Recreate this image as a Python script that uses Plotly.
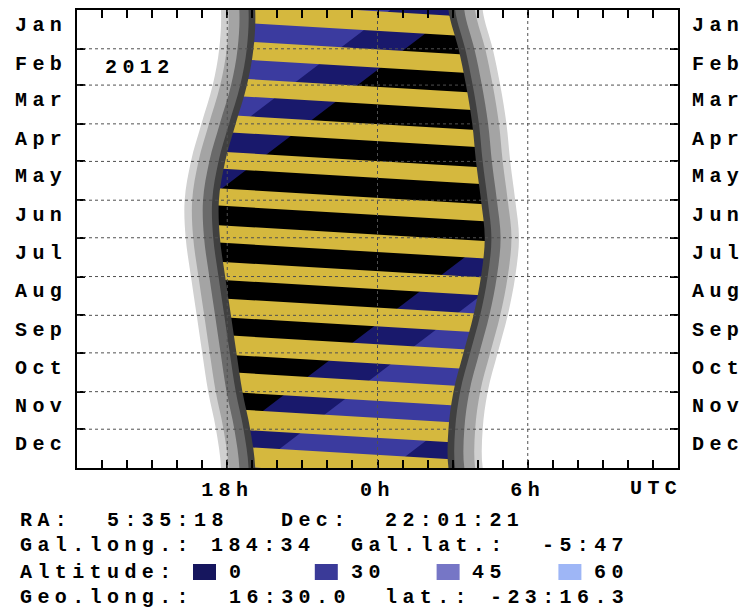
import plotly.graph_objects as go

# ---------------- data ----------------
year = 2012
month_names = ["Jan", "Feb", "Mar", "Apr", "May", "Jun",
               "Jul", "Aug", "Sep", "Oct", "Nov", "Dec"]
month_start_day = [0, 31, 60, 91, 121, 152, 182, 213, 244, 274, 305, 335, 366]
hour_tick_vals = [-6, 0, 6]
hour_tick_text = ["18h", "0h", "6h"]

# Outer edges of evening / morning twilight at each month start
# (hours relative to 0h UTC)
sunset_hours = [-6.25, -6.32, -6.58, -7.03, -7.45, -7.70, -7.66,
                -7.45, -7.22, -7.00, -6.76, -6.45, -6.25]
sunrise_hours = [4.20, 4.60, 4.90, 5.15, 5.30, 5.50, 5.65,
                 5.50, 5.20, 4.80, 4.40, 4.20, 4.20]
twilight_band_minutes = [18, 26, 22, 16]          # sunlit side -> dark side
twilight_colors = ["#d0d0d0", "#a4a4a4", "#6a6a6a", "#404040"]

# Moon above the horizon: day on which moonset / moonrise pass 0h UTC
moon_up_from_day = [1.0, 31.5, 61.4, 91.1, 120.7, 150.1, 179.5,
                    208.7, 237.9, 267.1, 296.5, 325.9, 355.5]
moon_up_until_day = [16.7, 46.0, 75.4, 104.8, 134.2, 163.8, 193.4,
                     223.1, 252.9, 282.6, 312.3, 342.0, 371.5]
moon_delay_hours_per_day = 0.84

# Target altitude limits on Jan 1 (hours relative to 0h UTC);
# each limit drifts back one full day over the year
target_rise_hour = -7.56
target_alt30_start_hour = -4.91
target_alt30_end_hour = 0.51
target_set_hour = 3.14
days_in_year = 366

info_lines = [
    [(0, "RA:"), (5, "5:35:18"), (15, "Dec:"), (21, "22:01:21")],
    [(0, "Gal.long.:"), (11, "184:34"), (19, "Gal.lat.:"), (30, "-5:47")],
    [(0, "Altitude:"), (12, "0"), (19, "30"), (26, "45"), (33, "60")],
    [(0, "Geo.long.:"), (12, "16:30.0"), (21, "lat.:"), (27, "-23:16.3")],
]
altitude_key_cells = [10, 17, 24, 31]
altitude_key_colors = ["#16165e", "#3a3a98", "#7676c6", "#9eb6f6"]

NAVY = "#19196c"
MID_BLUE = "#3b3b9f"
MOON_YELLOW = "#d5b83e"

# ---------------- geometry helpers ----------------
W, H = 743, 608
PX0, PX1, PY0, PY1 = 77, 678, 10, 468
LETTER = 5.4
FONT = "Liberation Mono"


def spaced(s, px=LETTER):
    return f'<span style="letter-spacing:{px}px">{s}</span>'


def paper_x(px):
    return (px - PX0) / (PX1 - PX0)


def paper_y(py):
    return (PY1 - py) / (PY1 - PY0)


fig = go.Figure()

# ---- target above the horizon / above 30 deg ----
def drifting_band(start_h, end_h):
    xs, ys = [], []
    for shift in (0, 24):
        xs += [start_h + shift, end_h + shift, end_h + shift - 24,
               start_h + shift - 24, start_h + shift, None]
        ys += [0, 0, days_in_year, days_in_year, 0, None]
    return xs, ys


for (a, b), col in (((target_rise_hour, target_set_hour), NAVY),
                    ((target_alt30_start_hour, target_alt30_end_hour), MID_BLUE)):
    xs, ys = drifting_band(a, b)
    fig.add_trace(go.Scatter(x=xs, y=ys, mode="lines", fill="toself",
                             fillcolor=col, line=dict(width=0),
                             hoverinfo="skip"))

# ---- moon above the horizon ----
mx, my = [], []
t_lo, t_hi = -9.0, 7.0
r = moon_delay_hours_per_day
for d0, d1 in zip(moon_up_from_day, moon_up_until_day):
    mx += [t_lo, t_hi, t_hi, t_lo, t_lo, None]
    my += [d0 + t_lo / r, d0 + t_hi / r, d1 + t_hi / r, d1 + t_lo / r,
           d0 + t_lo / r, None]
fig.add_trace(go.Scatter(x=mx, y=my, mode="lines", fill="toself",
                         fillcolor=MOON_YELLOW, line=dict(width=0),
                         hoverinfo="skip"))

# ---- twilight and daylight ----
ext_days = [month_start_day[0] - 31] + month_start_day + [month_start_day[-1] + 31]
ext_set = [sunset_hours[-2]] + sunset_hours + [sunset_hours[1]]
ext_rise = [sunrise_hours[-2]] + sunrise_hours + [sunrise_hours[1]]

offsets = [0.0]
for m in twilight_band_minutes:
    offsets.append(offsets[-1] + m / 60.0)
layer_colors = ["white"] + twilight_colors   # colour of region outside boundary k

for k in range(len(offsets) - 1, -1, -1):
    col = layer_colors[k]
    o = offsets[k]
    ys = ext_days + [ext_days[-1], ext_days[0]]
    # evening side
    xs = [v + o for v in ext_set] + [-14, -14]
    fig.add_trace(go.Scatter(x=xs, y=ys, mode="lines", fill="toself",
                             fillcolor=col, line=dict(width=0, shape="spline"),
                             hoverinfo="skip"))
    # morning side
    xs = [v - o for v in ext_rise] + [14, 14]
    fig.add_trace(go.Scatter(x=xs, y=ys, mode="lines", fill="toself",
                             fillcolor=col, line=dict(width=0, shape="spline"),
                             hoverinfo="skip"))

# invisible trace that carries the top hour axis and right month axis
fig.add_trace(go.Scatter(x=[0], y=[0], xaxis="x2", yaxis="y2", mode="markers",
                         marker=dict(opacity=0), hoverinfo="skip"))

# ---- dotted grid drawn over the fills ----
shapes = []
for hv in hour_tick_vals:
    shapes.append(dict(type="line", xref="x", yref="paper", x0=hv, x1=hv,
                       y0=0, y1=1, layer="above",
                       line=dict(color="#505050", width=1, dash="dot")))
for d in month_start_day[1:-1]:
    shapes.append(dict(type="line", xref="paper", yref="y", x0=0, x1=1,
                       y0=d, y1=d, layer="above",
                       line=dict(color="#505050", width=1, dash="dot")))

# altitude key swatches
line_y = [520, 545, 572, 597]
CELL = 17.4
TX0 = 19
for cell, col in zip(altitude_key_cells, altitude_key_colors):
    x0 = TX0 + cell * CELL
    shapes.append(dict(type="rect", xref="paper", yref="paper",
                       x0=paper_x(x0), x1=paper_x(x0 + 23),
                       y0=paper_y(line_y[2] + 8), y1=paper_y(line_y[2] - 8),
                       fillcolor=col, line=dict(width=0)))

text_font = dict(family=FONT, size=20, color="black", weight="bold")
annotations = []
for row, segs in enumerate(info_lines):
    for cell, txt in segs:
        annotations.append(dict(
            xref="paper", yref="paper", x=paper_x(TX0 + cell * CELL),
            y=paper_y(line_y[row]), xanchor="left", yanchor="middle",
            text=spaced(txt), showarrow=False, borderpad=0, font=text_font))

annotations.append(dict(xref="paper", yref="paper", x=paper_x(104),
                        y=paper_y(68), xanchor="left", yanchor="middle",
                        text=spaced(str(year)), showarrow=False, borderpad=0,
                        font=text_font))
annotations.append(dict(xref="paper", yref="paper", x=paper_x(683),
                        y=paper_y(488), xanchor="right", yanchor="middle",
                        text=spaced("UTC"), showarrow=False, borderpad=0,
                        font=text_font))

label_days = [month_start_day[i] + 11 for i in range(12)]
month_text = [spaced(m) for m in month_names]

tick_style = dict(ticklen=8, tickwidth=1.5, tickcolor="black")
hour_minor = dict(dtick=1, tick0=0, ticks="inside", showgrid=False, **tick_style)
month_minor = dict(tickmode="array", tickvals=month_start_day[1:-1],
                   ticks="inside", showgrid=False, **tick_style)

fig.update_layout(
    width=W, height=H,
    margin=dict(l=PX0, r=W - PX1, t=PY0, b=H - PY1, pad=0, autoexpand=False),
    paper_bgcolor="white", plot_bgcolor="black",
    showlegend=False,
    xaxis=dict(range=[-12, 12], tickvals=hour_tick_vals,
               ticktext=[spaced(t) for t in hour_tick_text],
               ticks="inside", minor=hour_minor, **tick_style,
               showline=True, linecolor="black", linewidth=1.5,
               mirror=True, showgrid=False, zeroline=False,
               layer="above traces", tickfont=text_font,
               ticklabelstandoff=2, automargin=False),
    xaxis2=dict(range=[-12, 12], overlaying="x", side="top",
                tickvals=hour_tick_vals, ticktext=["", "", ""],
                ticks="inside", minor=hour_minor, **tick_style,
                showline=False, showgrid=False, zeroline=False,
                layer="above traces", automargin=False),
    yaxis=dict(range=[days_in_year, 0], tickvals=label_days,
               ticktext=month_text, ticks="", minor=month_minor,
               showline=True, linecolor="black", linewidth=1.5,
               mirror=True, showgrid=False, zeroline=False,
               layer="above traces", tickfont=text_font,
               ticklabelstandoff=4, automargin=False),
    yaxis2=dict(range=[days_in_year, 0], overlaying="y", side="right",
                anchor="x2", tickvals=label_days, ticktext=month_text,
                ticks="", minor=month_minor,
                showline=False, showgrid=False, zeroline=False,
                layer="above traces", tickfont=text_font,
                ticklabelstandoff=13, automargin=False),
    shapes=shapes,
    annotations=annotations,
)

fig.write_html("out.html")
